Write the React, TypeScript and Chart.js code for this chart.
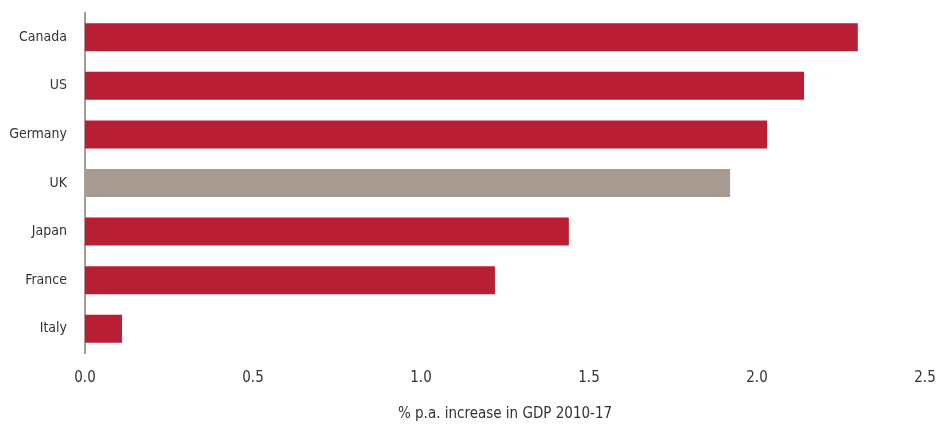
import React, { useEffect, useRef } from "react";
import { Chart, registerables } from "chart.js";

Chart.register(...registerables);

const categories = ["Canada", "US", "Germany", "UK", "Japan", "France", "Italy"];
const values = [2.3, 2.14, 2.03, 1.92, 1.44, 1.22, 0.11];
const barColors = ["#b81f34", "#b81f34", "#b81f34", "#a89b91", "#b81f34", "#b81f34", "#b81f34"];
const xTitle = "% p.a. increase in GDP 2010-17";

const FONT = "'Liberation Sans Narrow', 'DejaVu Sans Condensed', 'Liberation Sans', sans-serif";

export default function App() {
  const ref = useRef<HTMLCanvasElement | null>(null);
  useEffect(() => {
    if (!ref.current) return;
    const chart = new Chart(ref.current, {
      type: "bar",
      data: {
        labels: categories,
        datasets: [
          {
            data: values,
            backgroundColor: barColors,
            borderWidth: 0,
            barPercentage: 0.8,
            categoryPercentage: 0.72,
          },
        ],
      },
      options: {
        indexAxis: "y",
        animation: false,
        responsive: false,
        maintainAspectRatio: false,
        layout: { padding: { top: 13, right: 0, bottom: 0, left: 0 } },
        plugins: { legend: { display: false }, tooltip: { enabled: false } },
        scales: {
          x: {
            min: 0,
            max: 2.5,
            afterFit: (s: any) => {
              s.height = 72;
              s.paddingLeft = 0;
              s.paddingRight = 12;
            },
            ticks: {
              stepSize: 0.5,
              color: "#333333",
              font: { family: FONT, size: 15 },
              padding: 16,
              callback: (v: any) => Number(v).toFixed(1),
            },
            grid: { display: false, drawTicks: false },
            border: { display: false },
            title: {
              display: true,
              text: xTitle,
              color: "#333333",
              font: { family: FONT, size: 15 },
              padding: { top: 4, bottom: 2 },
            },
          },
          y: {
            afterFit: (s: any) => {
              s.width = 85;
              s.paddingTop = 0;
              s.paddingBottom = 0;
            },
            ticks: {
              color: "#333333",
              font: { family: FONT, size: 14 },
              padding: 18,
            },
            grid: { display: false, drawTicks: false },
            border: { display: true, color: "#a89b91", width: 2 },
          },
        },
      },
    });
    return () => chart.destroy();
  }, []);
  return (
    <div style={{ position: "fixed", left: 0, top: 0, width: 937, height: 425, background: "#ffffff" }}>
      <canvas ref={ref} width={937} height={425} style={{ display: "block", width: 937, height: 425 }} />
    </div>
  );
}
